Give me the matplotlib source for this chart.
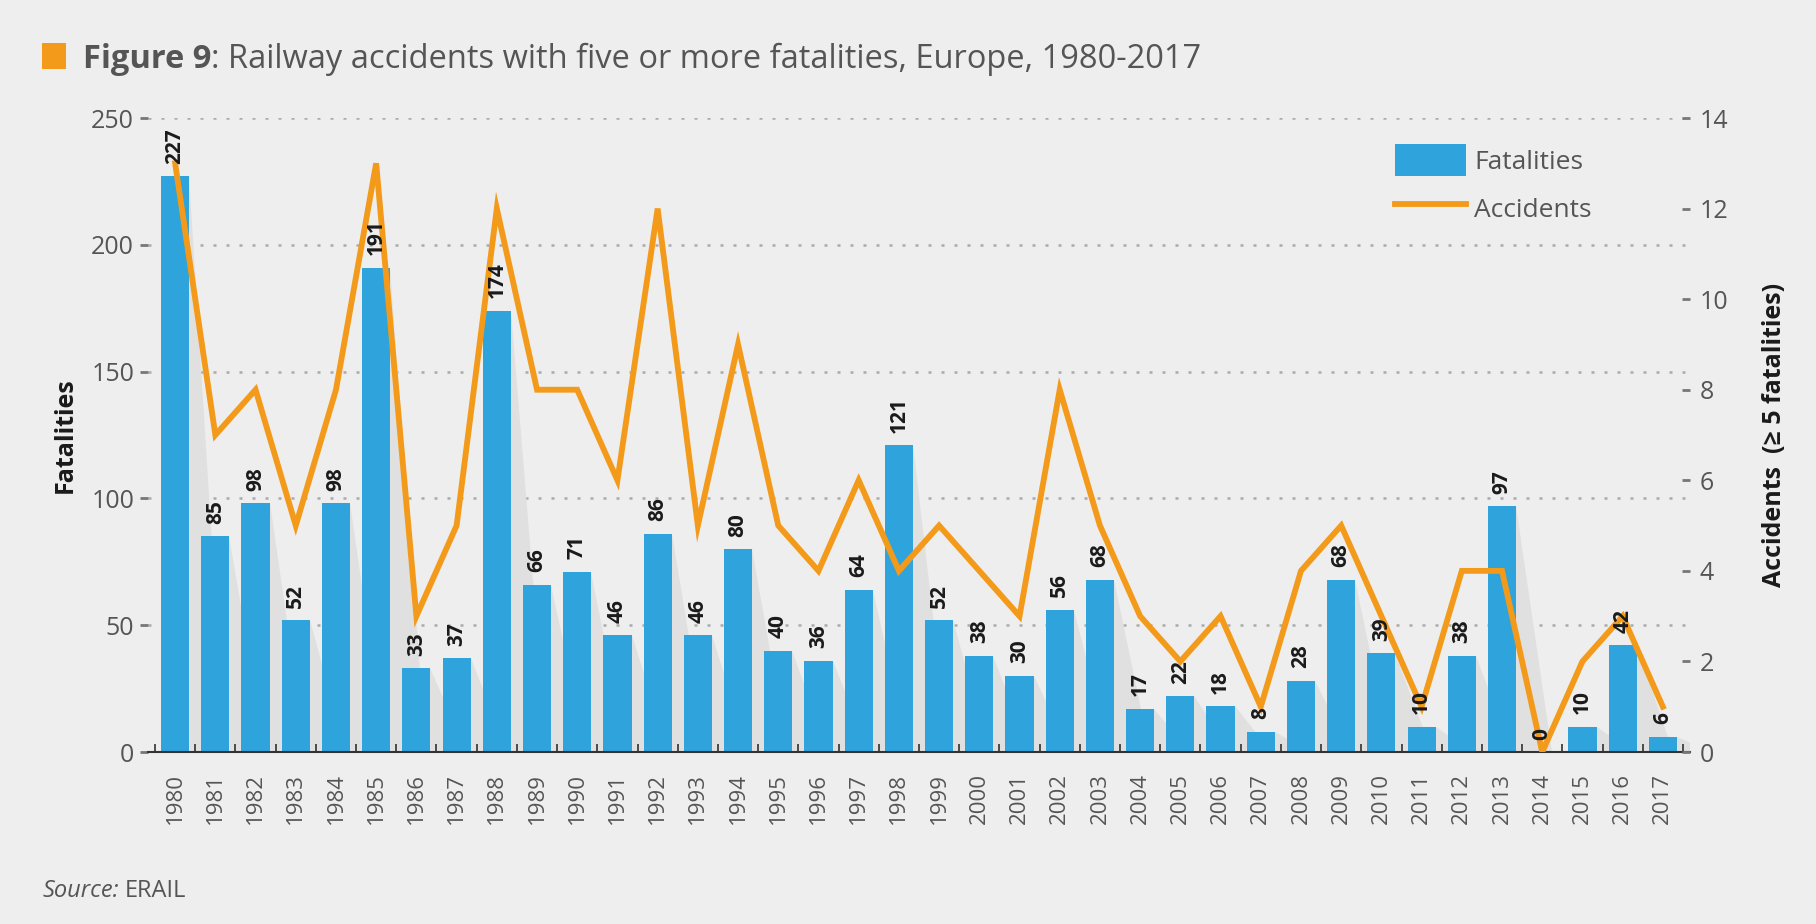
import numpy as np
import matplotlib.pyplot as plt
from matplotlib.patches import Polygon, Rectangle
from matplotlib.lines import Line2D

plt.rcParams['font.family'] = ['Open Sans', 'DejaVu Sans']

years = list(range(1980, 2018))
fatalities = [227, 85, 98, 52, 98, 191, 33, 37, 174, 66, 71, 46, 86, 46, 80, 40, 36, 64, 121, 52,
              38, 30, 56, 68, 17, 22, 18, 8, 28, 68, 39, 10, 38, 97, 0, 10, 42, 6]
accidents = [13, 7, 8, 5, 8, 13, 3, 5, 12, 8, 8, 6, 12, 5, 9, 5, 4, 6, 4, 5,
             4, 3, 8, 5, 3, 2, 3, 1, 4, 5, 3, 1, 4, 4, 0, 2, 3, 1]
left_ticks = [0, 50, 100, 150, 200, 250]
right_ticks = [0, 2, 4, 6, 8, 10, 12, 14]

bg = '#eeeeee'
blue = '#2ea3dc'
orange = '#f39a1a'
grey_txt = '#555555'

W, H = 1816, 924
fig = plt.figure(figsize=(W / 100, H / 100), dpi=100, facecolor=bg)
ax = fig.add_axes([148 / W, 1 - 752 / H, (1690 - 148) / W, (752 - 118) / H])
ax.set_facecolor(bg)

x = np.arange(len(years))
bw = 0.7

# soft wedge shadow to the right of each bar
for xi, h in zip(x, fatalities):
    xr = xi + bw / 2
    ax.add_patch(Polygon([(xr, h), (xr, 0), (xr + 0.9, 0)], closed=True,
                         facecolor='#e0e0e0', edgecolor='none', zorder=1))

ax.bar(x, fatalities, width=bw, color=blue, zorder=2)

ax.set_xlim(-0.675, len(years) - 1 + 0.675)
ax.set_ylim(0, 250)
ax.set_yticks(left_ticks)
ax.set_yticklabels([str(v) for v in left_ticks], fontsize=18, color=grey_txt)
ax.tick_params(axis='y', length=6, width=2, color='#777777', pad=4)
for v in left_ticks[1:]:
    ax.axhline(v, color='#ababab', lw=1.8, ls=(0, (1.2, 4)), zorder=0)

ax.set_xticks(x)
ax.set_xticklabels([str(y) for y in years], rotation=90, fontsize=16, color=grey_txt)
ax.tick_params(axis='x', which='major', length=0, pad=15)
ax.set_xticks(np.arange(len(years) + 1) - 0.5, minor=True)
ax.tick_params(axis='x', which='minor', direction='in', length=6, width=1.2, color='#333333')

for s in ['top', 'left', 'right']:
    ax.spines[s].set_visible(False)
ax.spines['bottom'].set_color('#333333')
ax.spines['bottom'].set_linewidth(1.5)
ax.set_ylabel('Fatalities', fontsize=18, fontweight='bold', color='#1a1a1a', labelpad=10)

ax2 = ax.twinx()
ax2.plot(x, accidents, color=orange, lw=4.2, zorder=5, solid_joinstyle='miter')
ax2.set_ylim(0, 14)
ax2.set_yticks(right_ticks)
ax2.set_yticklabels([str(v) for v in right_ticks], fontsize=18, color=grey_txt)
ax2.tick_params(axis='y', direction='in', length=6, width=2, color='#777777', pad=7)
for s in ['top', 'left', 'right', 'bottom']:
    ax2.spines[s].set_visible(False)
ax2.set_ylabel('Accidents  (\u2265 5 fatalities)', fontsize=18, fontweight='bold',
               color='#1a1a1a', labelpad=24)

# value labels above the bars, drawn over the line
for xi, h in zip(x, fatalities):
    ax2.annotate(str(h), (xi, h), xycoords=ax.transData, xytext=(0, 9),
                 textcoords='offset points', rotation=90, ha='center', va='bottom',
                 fontsize=15, fontweight='bold', color='#1a1a1a', zorder=6,
                 annotation_clip=False)

handles = [Rectangle((0, 0), 1, 1, facecolor=blue, edgecolor='none'),
           Line2D([0], [0], color=orange, lw=4.2)]
leg = ax2.legend(handles, ['Fatalities', 'Accidents'], loc='upper left',
                 bbox_to_anchor=(1395 / W, 1 - 144 / H), bbox_transform=fig.transFigure,
                 frameon=False, fontsize=19, handlelength=2.7, handleheight=1.5,
                 handletextpad=0.3, labelspacing=0.6, borderpad=0, borderaxespad=0)
for t in leg.get_texts():
    t.set_color(grey_txt)

# title with orange marker
fig.patches.append(Rectangle((42 / W, 1 - 69 / H), 24 / W, 26 / H, transform=fig.transFigure,
                             facecolor=orange, edgecolor='none'))
t1 = fig.text(83 / W, 1 - 68 / H, 'Figure 9', fontsize=23.5, fontweight='bold',
              color=grey_txt, va='baseline')
fig.canvas.draw()
bb = t1.get_window_extent()
fig.text(bb.x1 / W, 1 - 68 / H, ': Railway accidents with five or more fatalities, Europe, 1980-2017',
         fontsize=23.5, color=grey_txt, va='baseline')

s1 = fig.text(43 / W, 1 - 897 / H, 'Source:', fontsize=17, style='italic', color=grey_txt,
              va='baseline')
fig.canvas.draw()
bb = s1.get_window_extent()
fig.text(bb.x1 / W + 5 / W, 1 - 897 / H, 'ERAIL', fontsize=17, color=grey_txt, va='baseline')

fig.savefig('out.png', dpi=100, facecolor=bg)
